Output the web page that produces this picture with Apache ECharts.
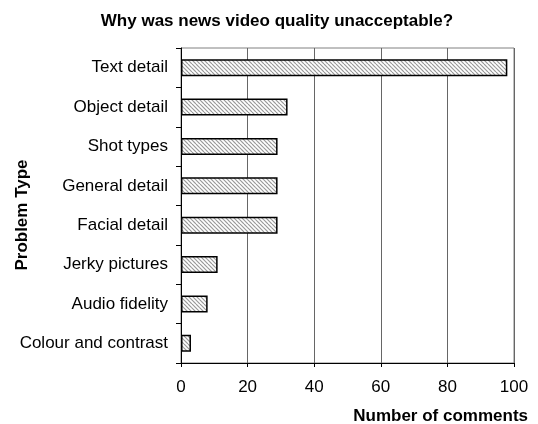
<!DOCTYPE html>
<html>
<head>
<meta charset="utf-8">
<script src="https://cdn.jsdelivr.net/npm/echarts@6/dist/echarts.min.js"></script>
<style>
  html, body { margin: 0; padding: 0; background: #fff; }
  #chart { width: 538px; height: 424px; }
</style>
</head>
<body>
<div id="chart"></div>
<script>
// data
var categories = [
  "Text detail", "Object detail", "Shot types", "General detail",
  "Facial detail", "Jerky pictures", "Audio fidelity", "Colour and contrast"
];
var comments = [98, 32, 29, 29, 29, 11, 8, 3];
var xTicks = [0, 20, 40, 60, 80, 100];

// diagonal hatch fill
function hatch() {
  var c = document.createElement("canvas");
  c.width = 8;
  c.height = 8;
  var ctx = c.getContext("2d");
  ctx.fillStyle = "#fff";
  ctx.fillRect(0, 0, 8, 8);
  ctx.strokeStyle = "#999";
  ctx.lineWidth = 1.2;
  for (var i = -8; i <= 8; i += 4) {
    ctx.beginPath();
    ctx.moveTo(i, 0);
    ctx.lineTo(i + 8, 8);
    ctx.stroke();
  }
  return c;
}

var font = "Liberation Sans";
var myChart = echarts.init(document.getElementById("chart"));
var option = {
  animation: false,
  textStyle: { fontFamily: font },
  grid: {
    left: 181,
    right: 24,
    top: 48,
    bottom: 61,
    show: true,
    borderColor: "#808080",
    borderWidth: 1,
  },
  xAxis: {
    type: "value",
    min: xTicks[0],
    max: xTicks[xTicks.length - 1],
    interval: 20,
    axisLine: { show: true, onZero: false, lineStyle: { color: "#000", width: 1 } },
    axisTick: { show: true, length: 4, lineStyle: { color: "#000" } },
    axisLabel: { color: "#000", fontSize: 17, margin: 16, fontFamily: font },
    splitLine: { show: true, lineStyle: { color: "#666", width: 1 } },
  },
  yAxis: {
    type: "category",
    data: categories,
    inverse: true,
    axisLine: { show: true, lineStyle: { color: "#000", width: 1 } },
    axisTick: { show: true, length: 5, alignWithLabel: false, lineStyle: { color: "#000" } },
    axisLabel: { color: "#000", fontSize: 17, margin: 13, fontFamily: font },
    splitLine: { show: false },
  },
  series: [
    {
      type: "bar",
      data: comments,
      barWidth: 17,
      itemStyle: {
        color: { image: hatch(), repeat: "repeat" },
        borderColor: "#000",
        borderWidth: 1.5,
      },
    },
  ],
  graphic: [
    {
      type: "text",
      x: 277,
      y: 21,
      style: {
        text: "Why was news video quality unacceptable?",
        font: "bold 17px " + font,
        fill: "#000",
        align: "center",
        verticalAlign: "middle",
      },
    },
    {
      type: "text",
      x: 528,
      y: 416,
      style: {
        text: "Number of comments",
        font: "bold 17px " + font,
        fill: "#000",
        align: "right",
        verticalAlign: "middle",
      },
    },
    {
      type: "text",
      x: 22,
      y: 215,
      rotation: Math.PI / 2,
      style: {
        text: "Problem Type",
        font: "bold 17px " + font,
        fill: "#000",
        align: "center",
        verticalAlign: "middle",
      },
    },
  ],
};
myChart.setOption(option);
</script>
</body>
</html>
